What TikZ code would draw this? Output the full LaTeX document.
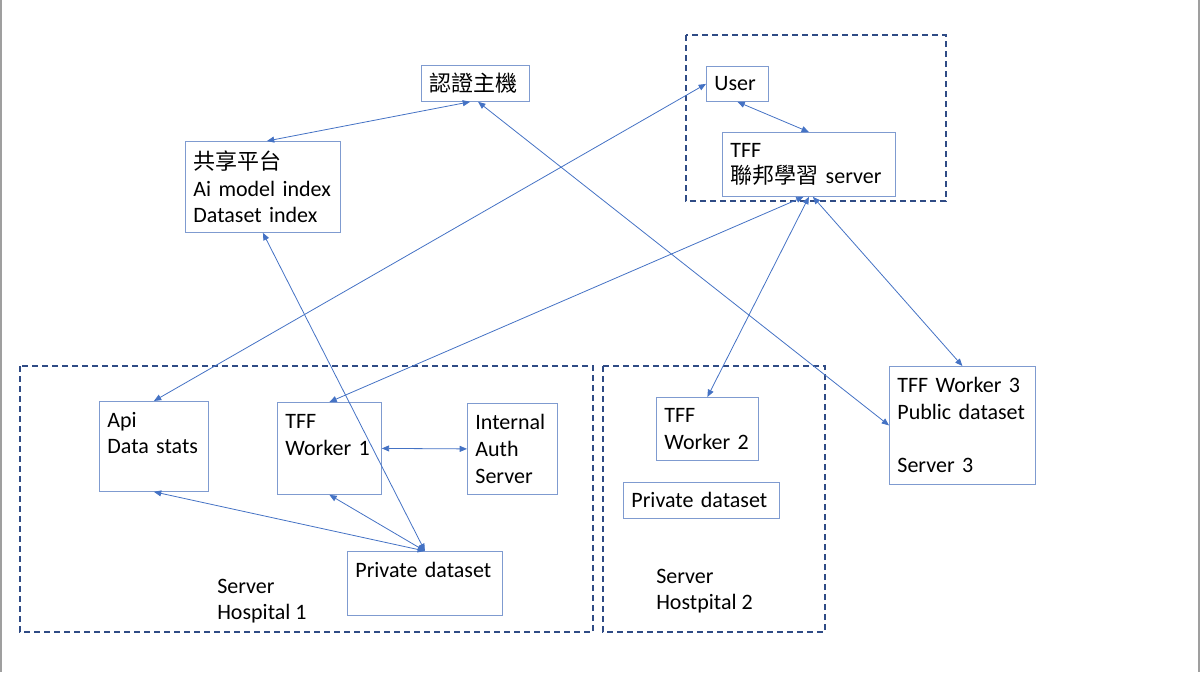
\documentclass[tikz,border=0pt]{standalone}
\usepackage{fontspec}
\setmainfont{Carlito}
\newfontfamily\cjk{Noto Sans CJK TC}
\usetikzlibrary{arrows.meta}
\definecolor{linkblue}{HTML}{4472C4}
\definecolor{boxblue}{HTML}{7F9BD0}
\definecolor{groupblue}{HTML}{2F4B85}
\begin{document}
\begin{tikzpicture}[x=0.75pt,y=-0.75pt,
box/.style={
% The shape:
rectangle,
draw=boxblue,
line width=0.6pt,
anchor=north west,
inner xsep=6pt,
inner ysep=0pt,
align=left,
font=\fontsize{16.5}{20}\selectfont
},
group/.style={draw=groupblue,line width=1.1pt,dash pattern=on 4.5pt off 3pt},
servername/.style={anchor=west,inner sep=0pt,align=left,font=\fontsize{16.5}{20}\selectfont},
link/.style={draw=linkblue,line width=0.6pt,{Triangle[length=5.5pt,width=4.5pt]}-{Triangle[length=5.5pt,width=4.5pt]}}
]
\useasboundingbox (0,0) rectangle (1201,672);
\draw[gray!75,line width=1.5pt] (1,0) -- (1,672) (1199,0) -- (1199,672);
% Groups:
\draw[group] (686,35) rectangle (946,201);
\draw[group] (20,366) rectangle (593,632);
\draw[group] (603,366) rectangle (825,632);
% Top:
\node (auth) [box,text width=69pt,minimum height=27pt] at (421,65) {\cjk 認證主機};
\node (share) [box,text width=104.25pt,minimum height=68.25pt] at (185,141) {{\cjk 共享平台}\\Ai model index\\Dataset index};
\node (user) [box,text width=34.5pt,minimum height=26.25pt] at (706,66) {User};
\node (server) [box,text width=117.75pt,minimum height=48pt] at (722,132) {TFF\\{\cjk 聯邦學習} server};
% Hospital 1:
\node (api) [box,text width=69.75pt,minimum height=67.5pt] at (99,401) {Api\\Data stats\\\mbox{}};
\node (worker1) [box,text width=66pt,minimum height=69pt] at (277,402) {TFF\\Worker 1\\\mbox{}};
\node (authsrv) [box,text width=55.5pt,minimum height=68.25pt] at (467,403) {Internal\\Auth\\Server};
\node (private1) [box,text width=104.25pt,minimum height=48pt] at (347,551) {Private dataset\\\mbox{}};
\node (hosp1) [servername] at (217,601) {Server\\Hospital 1};
% Hospital 2:
\node (worker2) [box,text width=64.5pt,minimum height=47.25pt] at (656,397) {TFF\\Worker 2};
\node (private2) [box,text width=105pt,minimum height=27pt] at (623,482) {Private dataset};
\node (hosp2) [servername] at (656,591) {Server\\Hostpital 2};
% Server 3:
\node (worker3) [box,text width=97.5pt,minimum height=88.5pt] at (889,366) {TFF Worker 3\\Public dataset\\\mbox{}\\Server 3};
\path ([xshift=3pt]share.north) edge[link] ([xshift=-4pt]auth.south)
([xshift=2pt]auth.south) edge[link] (worker3.west)
(user.west) edge[link] (api.north)
(user.south) edge[link] (server.north)
([xshift=-4pt]server.south) edge[link] (worker1.north)
(server.south) edge[link] (worker2.north)
([xshift=3pt]server.south) edge[link] (worker3.north)
(share.south) edge[link] (private1.north)
(worker1.east) edge[link] (authsrv.west)
(api.south) edge[link] (private1.north)
(worker1.south) edge[link] (private1.north);
\end{tikzpicture}
\end{document}
